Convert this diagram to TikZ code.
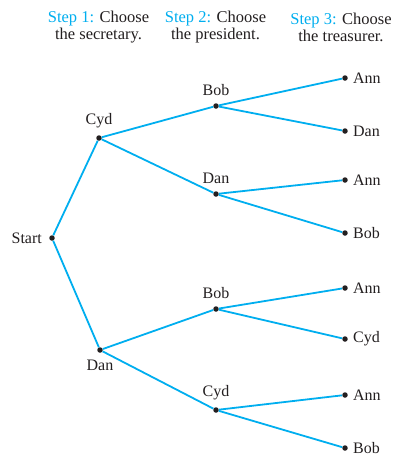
\documentclass[tikz,border=0pt]{standalone}
\usepackage{fontspec}
\setmainfont{Liberation Serif}
\usepackage{xcolor}
\usetikzlibrary{positioning}
\definecolor{trblue}{RGB}{0,174,239}
\definecolor{trdark}{RGB}{35,31,32}
\tikzset{
  dot/.style={circle, fill=trdark, inner sep=0pt, minimum size=5.5pt},
  branch/.style={draw=trblue, line width=1.8pt},
  who/.style={font=\fontsize{16}{18}\selectfont, text=trdark, inner sep=1pt},
  head/.style={font=\fontsize{16.5}{17}\selectfont, text=trdark, align=center, inner sep=0pt},
}

\begin{document}
\begin{tikzpicture}[x=1pt,y=-1pt]
\useasboundingbox (0,0) rectangle (393,456);
% column heads
\node[head] (h1) at (98.5,27) {\textcolor{trblue}{Step 1:} Choose\\the secretary.};
\node[head] (h2) at (215.5,27) {\textcolor{trblue}{Step 2:} Choose\\the president.};
\node[head] (h3) at (341,27) {\textcolor{trblue}{Step 3:} Choose\\the treasurer.};
% root and first two levels
\node[dot, label={[who,label distance=6pt]left:Start}] (s) at (52,238) {};
\node[dot, label={[who,label distance=6pt]above:Cyd}] (c1) at (99,138) {};
\node[dot, label={[who,label distance=6pt]below:Dan}] (d0) at (100,350) {};
\node[dot, label={[who,label distance=6pt]above:Bob}] (b1) at (216,106) {};
\node[dot, label={[who,label distance=6pt]above:Dan}] (d1) at (216,194) {};
\node[dot, label={[who,label distance=6pt]above:Bob}] (b2) at (216,309) {};
\node[dot, label={[who,label distance=6pt]above:Cyd}] (c2) at (216,410) {};
\draw[branch] (s) -- (c1);
\draw[branch] (s) -- (d0);
\draw[branch] (c1) -- (b1);
\draw[branch] (c1) -- (d1);
\draw[branch] (d0) -- (b2);
\draw[branch] (d0) -- (c2);
% leaves
\foreach \p/\n/\y/\lab in {
  b1/l1/78/Ann, b1/l2/131/Dan,
  d1/l3/180/Ann, d1/l4/233/Bob,
  b2/l5/288/Ann, b2/l6/339/Cyd,
  c2/l7/395/Ann, c2/l8/448/Bob}
{
  \node[dot, label={[who,label distance=4pt]right:\lab}] (\n) at (345,\y) {};
  \draw[branch] (\p) -- (\n);
}
\end{tikzpicture}
\end{document}
